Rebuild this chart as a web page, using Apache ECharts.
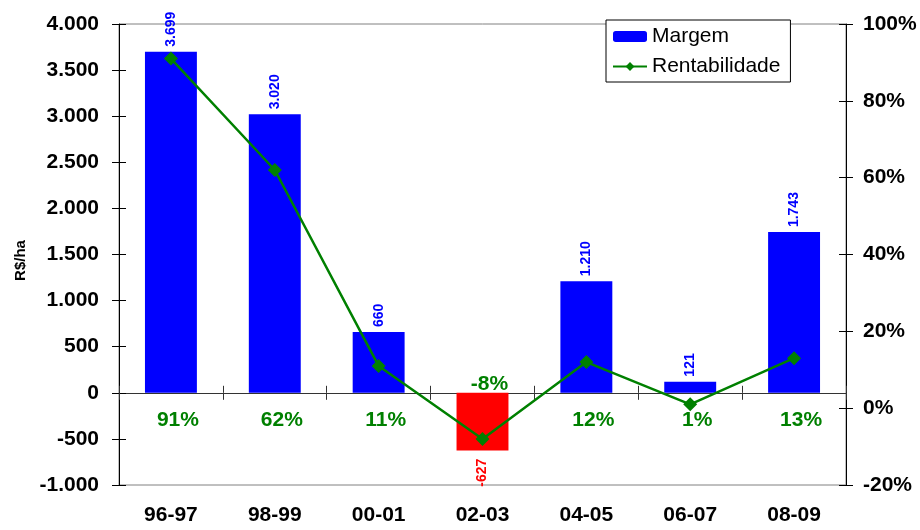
<!DOCTYPE html>
<html>
<head>
<meta charset="utf-8">
<script src="https://cdn.jsdelivr.net/npm/echarts@6/dist/echarts.min.js"></script>
<style>html,body{margin:0;padding:0;background:#fff}#c{width:920px;height:530px}</style>
</head>
<body>
<div id="c"></div>
<script>
var categories = ['96-97', '98-99', '00-01', '02-03', '04-05', '06-07', '08-09'];
var margem = [3699, 3020, 660, -627, 1210, 121, 1743];
var rentabilidade = [91, 62, 11, -8, 12, 1, 13];

var BLUE = '#0000FF', RED = '#FF0000', GREEN = '#008000';
var FONT = '"Liberation Sans", Arial, sans-serif';

function fmt(v) {
  var s = String(Math.abs(v)).replace(/\B(?=(\d{3})+(?!\d))/g, '.');
  return (v < 0 ? '-' : '') + s;
}

var barData = margem.map(function (v) {
  if (v < 0) {
    return { value: v, itemStyle: { color: RED },
      label: { position: 'bottom', align: 'right', color: RED, distance: 8 } };
  }
  return v;
});

function tickAxis(type, extra) {
  var o = { type: type, axisLine: { show: false }, axisLabel: { show: false }, splitLine: { show: false },
    axisTick: { show: true, inside: true, length: 7, lineStyle: { color: '#000' } } };
  for (var k in extra) o[k] = extra[k];
  return o;
}

var chart = echarts.init(document.getElementById('c'));
chart.setOption({
  animation: false,
  textStyle: { fontFamily: FONT },
  grid: { left: 119, right: 74, top: 24, bottom: 45, show: true, borderColor: '#808080', borderWidth: 1, backgroundColor: 'transparent' },
  legend: {
    orient: 'vertical', left: 606, top: 20,
    backgroundColor: '#fff', borderColor: '#000', borderWidth: 1,
    padding: [6, 10, 5, 6], itemGap: 9, itemWidth: 34, itemHeight: 11,
    textStyle: { fontSize: 21, color: '#000', fontFamily: FONT },
    data: ['Margem', 'Rentabilidade']
  },
  xAxis: [
    { type: 'category', data: categories, position: 'bottom',
      axisLine: { show: false }, axisTick: { show: false },
      axisLabel: { fontSize: 21, fontWeight: 'bold', color: '#000', margin: 20, fontFamily: FONT } },
    { type: 'category', data: categories, position: 'bottom',
      axisLine: { show: true, onZero: true, onZeroAxisIndex: 0, lineStyle: { color: '#333', width: 1 } },
      axisTick: { show: true, length: 7, lineStyle: { color: '#333' } },
      axisLabel: { show: false } },
    { type: 'category', data: categories, position: 'bottom',
      axisLine: { show: false, onZero: true, onZeroAxisIndex: 0 },
      axisTick: { show: true, inside: true, length: 7, lineStyle: { color: '#333' } },
      axisLabel: { show: false } }
  ],
  yAxis: [
    { type: 'value', min: -1000, max: 4000, interval: 500, position: 'left',
      axisLine: { show: true, onZero: false, lineStyle: { color: '#000' } },
      axisTick: { show: true, length: 7, lineStyle: { color: '#000' } },
      splitLine: { show: false },
      axisLabel: { fontSize: 21, fontWeight: 'bold', color: '#000', margin: 20, formatter: fmt, fontFamily: FONT },
      name: 'R$/ha', nameLocation: 'middle', nameRotate: 90, nameGap: 90,
      nameTextStyle: { fontSize: 15, fontWeight: 'bold', color: '#000', fontFamily: FONT, padding: [0, 12, 0, 0] } },
    { type: 'value', min: -20, max: 100, interval: 20, position: 'right',
      axisLine: { show: true, onZero: false, lineStyle: { color: '#000' } },
      axisTick: { show: true, length: 7, lineStyle: { color: '#000' } },
      splitLine: { show: false },
      axisLabel: { fontSize: 21, fontWeight: 'bold', color: '#000', margin: 17, formatter: '{value}%', fontFamily: FONT } },
    tickAxis('value', { min: -1000, max: 4000, interval: 500, position: 'left' }),
    tickAxis('value', { min: -20, max: 100, interval: 20, position: 'right' })
  ],
  series: [
    { name: 'Margem', type: 'bar', xAxisIndex: 0, yAxisIndex: 0, barWidth: '50%',
      itemStyle: { color: BLUE },
      label: { show: true, position: 'top', rotate: 90, align: 'left', verticalAlign: 'middle',
        distance: 5, color: BLUE, fontSize: 14, fontWeight: 'bold', fontFamily: FONT,
        formatter: function (p) { return fmt(p.value); } },
      data: barData, z: 2 },
    { name: 'Rentabilidade', type: 'line', xAxisIndex: 0, yAxisIndex: 1,
      symbol: 'diamond', symbolSize: 14, showSymbol: true,
      lineStyle: { color: GREEN, width: 2.5 }, itemStyle: { color: GREEN },
      data: rentabilidade, z: 4 },
    { name: 'pctLabels', type: 'custom', xAxisIndex: 0, yAxisIndex: 0, z: 5, silent: true,
      data: rentabilidade.map(function (v, i) { return [i, v]; }),
      renderItem: function (params, api) {
        var i = api.value(0), v = api.value(1);
        var p = api.coord([i, 0]);
        return { type: 'text', style: {
          x: p[0] + 7, y: v < 0 ? p[1] - 9 : p[1] + 27,
          text: v + '%', fill: GREEN, font: 'bold 21px ' + FONT,
          align: 'center', verticalAlign: 'middle' } };
      } }
  ]
});
</script>
</body>
</html>
